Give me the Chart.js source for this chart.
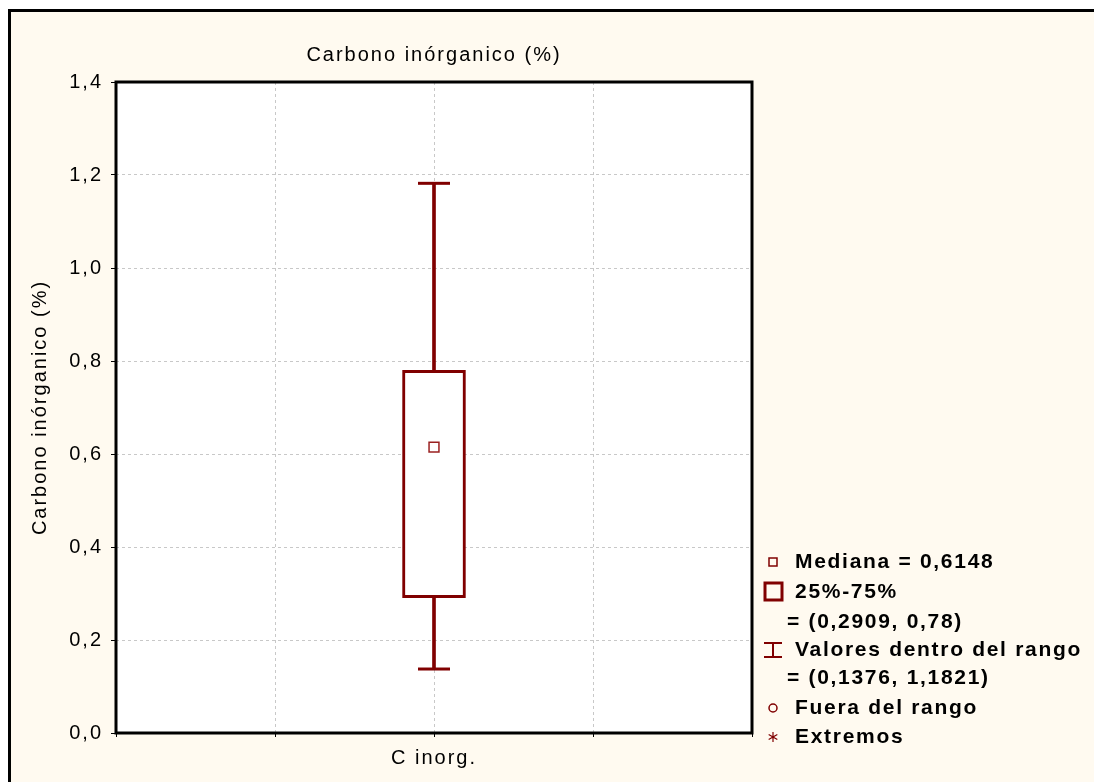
<!DOCTYPE html>
<html>
<head>
<meta charset="utf-8">
<script src="https://cdn.jsdelivr.net/npm/chart.js@4/dist/chart.umd.min.js"></script>
<style>
    body { margin: 0; background: #fff; }
    #frame {
        position: absolute; left: 8px; top: 9px;
        width: 1086px; height: 773px;
        border-left: 3px solid #000; border-top: 3px solid #000;
        background: #FFFAF0; overflow: hidden;
    }
    #boxChart { display: block; }
</style>
</head>
<body>
<div id="frame"><canvas id="boxChart" width="1083" height="770"></canvas></div>
<script>
// --- Data ---
const categories = ['C inorg.'];
const medianValues = [0.6148];
const q1Values = [0.2909];
const q3Values = [0.78];
const minValues = [0.1376];
const maxValues = [1.1821];
const yMin = 0, yMax = 1.4, yStep = 0.2;

// x slots: two empty slots either side so the box sits on the middle gridline
const xLabels = ['', '', categories[0], '', ''];

const legendLines = [
    'Mediana = 0,6148',
    '25%-75%',
    '= (0,2909, 0,78)',
    'Valores dentro del rango',
    '= (0,1376, 1,1821)',
    'Fuera del rango',
    'Extremos'
];

const RED = '#800000';
const FONT = "'Liberation Sans', Arial, sans-serif";

const at = (arr) => xLabels.map(l => l === categories[0] ? arr[0] : null);

// letter spacing helper (Chart.js has no option for it)
const spacingPlugin = {
    id: 'spacing',
    beforeUpdate(chart) { chart.ctx.letterSpacing = '2px'; },
    beforeDraw(chart) { chart.ctx.letterSpacing = '2px'; }
};

const framePlugin = {
    id: 'frame',
    beforeDraw(chart) {
        const a = chart.chartArea, ctx = chart.ctx;
        ctx.save();
        ctx.fillStyle = '#fff';
        ctx.fillRect(a.left, a.top, a.right - a.left, a.bottom - a.top);
        ctx.restore();
    },
    afterDraw(chart) {
        const a = chart.chartArea, ctx = chart.ctx;
        ctx.save();
        ctx.strokeStyle = '#000';
        ctx.lineWidth = 3;
        ctx.strokeRect(a.left, a.top, a.right - a.left, a.bottom - a.top);
        ctx.restore();
    }
};

// custom legend block on the right
const legendPlugin = {
    id: 'boxLegend',
    afterDraw(chart) {
        const ctx = chart.ctx;
        const x0 = chart.chartArea.right;
        const mx = x0 + 21;      // symbol centre
        const tx = x0 + 43;      // text start
        const ys = [550, 580, 610, 638, 666, 696, 725];
        ctx.save();
        ctx.letterSpacing = '1.7px';
        ctx.font = 'bold 21px ' + FONT;
        ctx.fillStyle = '#000';
        ctx.textBaseline = 'middle';
        ctx.textAlign = 'left';
        legendLines.forEach((t, i) => {
            const x = t.startsWith('=') ? tx - 8 : tx;
            ctx.fillText(t, x, ys[i]);
        });

        ctx.strokeStyle = RED;
        // median
        ctx.lineWidth = 1.5;
        ctx.strokeRect(mx - 4, ys[0] - 4, 8, 8);
        // box
        ctx.lineWidth = 3;
        ctx.strokeRect(mx - 8, ys[1] - 9, 17, 17);
        // whisker
        ctx.lineWidth = 2;
        ctx.beginPath();
        ctx.moveTo(mx - 9, ys[3] - 7); ctx.lineTo(mx + 9, ys[3] - 7);
        ctx.moveTo(mx, ys[3] - 7); ctx.lineTo(mx, ys[3] + 7);
        ctx.moveTo(mx - 9, ys[3] + 7); ctx.lineTo(mx + 9, ys[3] + 7);
        ctx.stroke();
        // outlier circle
        ctx.lineWidth = 1.5;
        ctx.beginPath();
        ctx.arc(mx, ys[5], 4, 0, Math.PI * 2);
        ctx.stroke();
        // extreme asterisk
        ctx.lineWidth = 1.2;
        ctx.beginPath();
        for (let k = 0; k < 3; k++) {
            const ang = Math.PI / 2 + k * Math.PI / 3;
            ctx.moveTo(mx - 5 * Math.cos(ang), ys[6] - 5 * Math.sin(ang));
            ctx.lineTo(mx + 5 * Math.cos(ang), ys[6] + 5 * Math.sin(ang));
        }
        ctx.stroke();
        ctx.restore();
    }
};

const tickFont = { family: FONT, size: 20 };

new Chart(document.getElementById('boxChart'), {
    data: {
        labels: xLabels,
        datasets: [
            {
                // median marker
                type: 'line',
                data: at(medianValues),
                showLine: false,
                pointStyle: 'rect',
                pointRadius: 7,
                pointBorderWidth: 1.5,
                pointBorderColor: '#9a2020',
                pointBackgroundColor: '#fff'
            },
            {
                // whisker caps
                type: 'line',
                data: [
                    { x: categories[0], y: minValues[0] },
                    { x: categories[0], y: maxValues[0] }
                ],
                showLine: false,
                pointStyle: 'line',
                pointRadius: 16,
                pointBorderWidth: 3,
                pointBorderColor: RED
            },
            {
                // 25%-75% box
                type: 'bar',
                data: xLabels.map(l => l === categories[0] ? [q1Values[0], q3Values[0]] : null),
                backgroundColor: '#fff',
                borderColor: RED,
                borderWidth: 3,
                borderSkipped: false,
                barThickness: 63,
                grouped: false
            },
            {
                // whisker line min..max
                type: 'bar',
                data: xLabels.map(l => l === categories[0] ? [minValues[0], maxValues[0]] : null),
                backgroundColor: RED,
                borderWidth: 0,
                barThickness: 3,
                grouped: false
            }
        ]
    },
    options: {
        responsive: false,
        animation: false,
        layout: { padding: { left: 0, top: 0, right: 342, bottom: 0 } },
        plugins: {
            legend: { display: false },
            tooltip: { enabled: false }
        },
        scales: {
            x: {
                type: 'category',
                position: 'bottom',
                offset: false,
                grid: { offset: false, color: '#c8c8c8', tickColor: '#000', tickLength: 4 },
                border: { display: false, dash: [3, 3] },
                ticks: { color: '#000', font: tickFont, padding: 9, maxRotation: 0, autoSkip: false },
                afterFit(s) { s.height = 49; }
            },
            xTop: {
                type: 'category',
                position: 'top',
                grid: { display: false },
                border: { display: false },
                ticks: { display: false },
                title: {
                    display: true,
                    text: 'Carbono inórganico (%)',
                    color: '#000',
                    font: { family: FONT, size: 20 },
                    padding: { top: 31, bottom: 15 }
                },
                afterFit(s) { s.height = 70; }
            },
            y: {
                min: yMin,
                max: yMax,
                grid: { color: '#c8c8c8', tickColor: '#000', tickLength: 5 },
                border: { display: false, dash: [3, 3] },
                ticks: {
                    stepSize: yStep,
                    color: '#000',
                    font: tickFont,
                    padding: 8,
                    callback: v => v.toFixed(1).replace('.', ',')
                },
                title: {
                    display: true,
                    text: 'Carbono inórganico (%)',
                    color: '#000',
                    font: { family: FONT, size: 20 },
                    padding: { top: 17, bottom: 0 }
                },
                afterFit(s) { s.width = 105; }
            }
        }
    },
    plugins: [spacingPlugin, framePlugin, legendPlugin]
});
</script>
</body>
</html>
